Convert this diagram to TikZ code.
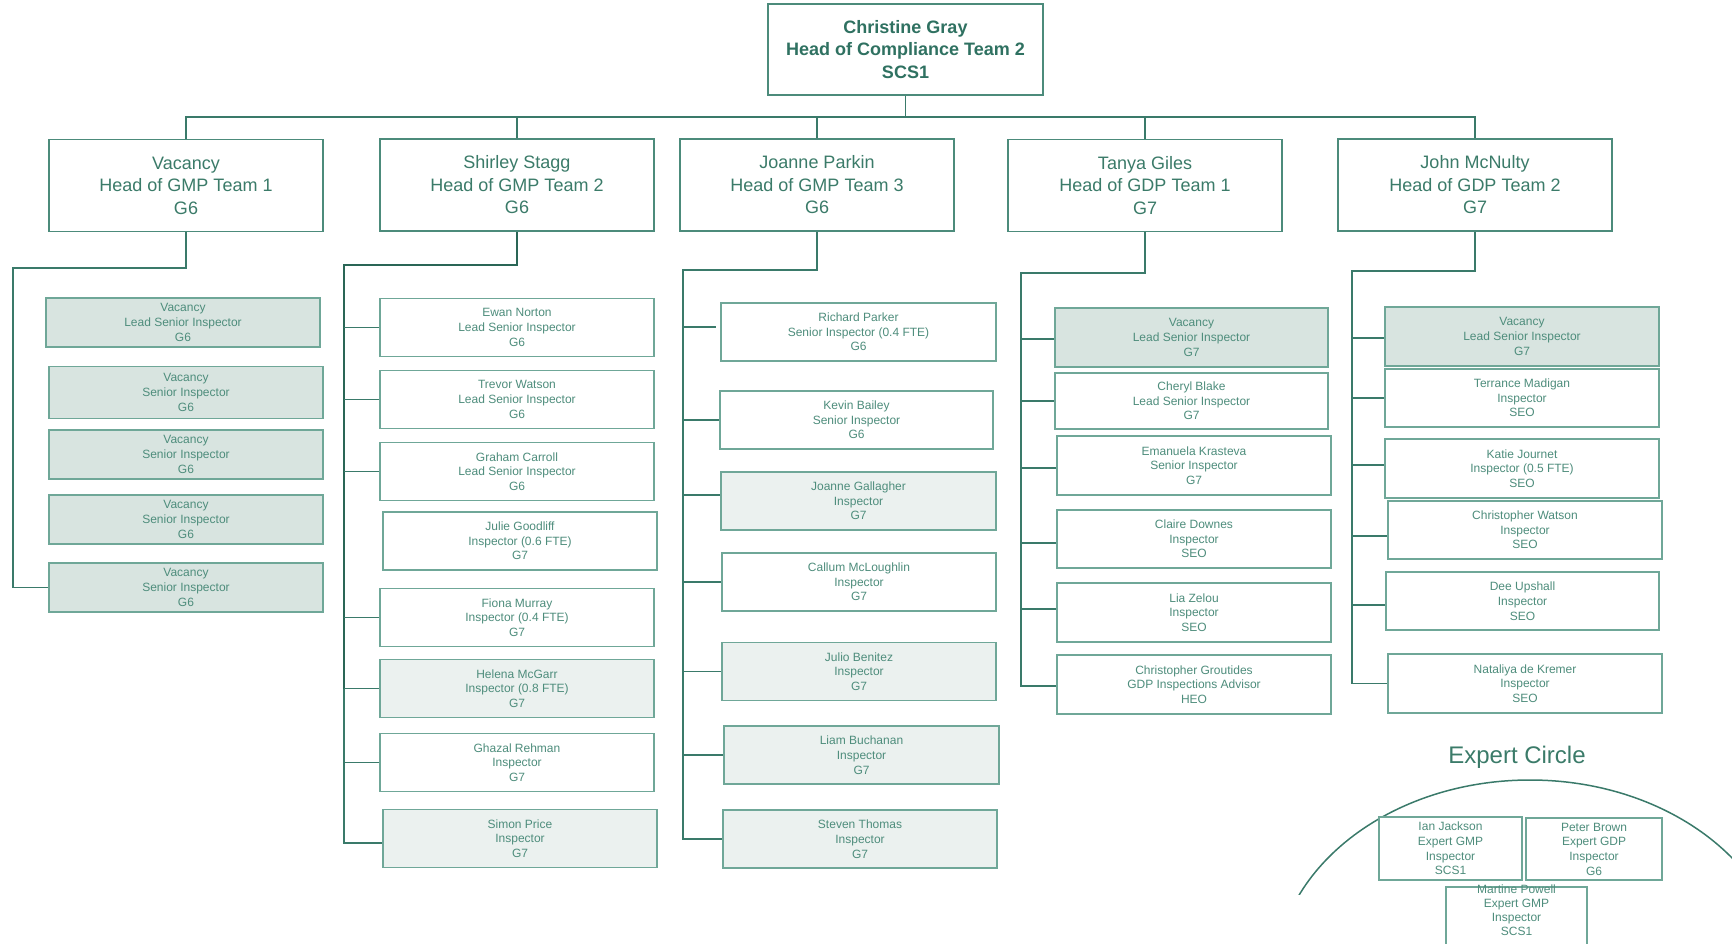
\documentclass[tikz,border=0pt]{standalone}
\usepackage{fontspec}
\setmainfont{Liberation Sans}
\definecolor{toptext}{HTML}{2F7161}
\definecolor{headtext}{HTML}{3B7B69}
\definecolor{stafftext}{HTML}{4E8D7C}
\definecolor{headline}{HTML}{4C8B7B}
\definecolor{boxline}{HTML}{6FA798}
\definecolor{connline}{HTML}{3A7A6A}
\definecolor{darkline}{HTML}{2A6656}
\definecolor{vacfill}{HTML}{D8E4E0}
\definecolor{lightfill}{HTML}{EBF1EF}
\begin{document}
\begin{tikzpicture}[x=1pt,y=-1pt,
  every node/.style={inner sep=0pt, align=center},
  topbox/.style={draw=headline, line width=1.6pt, fill=white,
    minimum width=275pt, minimum height=91pt, text=toptext,
    font=\fontsize{18}{22.5}\selectfont\bfseries},
  headbox/.style={draw=headline, line width=1.6pt, fill=white,
    minimum width=274pt, minimum height=92pt, text=headtext,
    font=\fontsize{18}{22.5}\selectfont},
  staff/.style={draw=boxline, line width=1.6pt, fill=white,
    minimum width=274pt, minimum height=58pt, text=stafftext,
    font=\fontsize{12}{14.7}\selectfont},
  vacant/.style={staff, fill=vacfill},
  shaded/.style={staff, fill=lightfill},
  expert/.style={staff, minimum height=63pt},
  stafftxt/.style={text=stafftext, font=\fontsize{12}{14.2}\selectfont},
  conn/.style={draw=connline, line width=1.8pt},
  mainconn/.style={draw=darkline, line width=2.8pt},
  title/.style={text=headtext, font=\fontsize{24}{28}\selectfont}]

\path[use as bounding box, clip] (0,0) rectangle (1732,943);

% ---------- top level ----------
\node[topbox] (top) at (905.5,49.5) {Christine Gray\\Head of Compliance Team 2\\SCS1};

\node[headbox] (h1) at (186,185.5) {Vacancy\\Head of GMP Team 1\\G6};
\node[headbox] (h2) at (517,185) {Shirley Stagg\\Head of GMP Team 2\\G6};
\node[headbox] (h3) at (817,185) {Joanne Parkin\\Head of GMP Team 3\\G6};
\node[headbox] (h4) at (1145,185.5) {Tanya Giles\\Head of GDP Team 1\\G7};
\node[headbox] (h5) at (1475,185) {John McNulty\\Head of GDP Team 2\\G7};

\coordinate (bar) at (0,117);
\draw[conn] (top.south) -- (top.south |- bar);
\draw[conn] (h1.north) |- (h5.north |- bar) -- (h5.north);
\foreach \h in {h2,h3,h4} \draw[conn] (\h.north) -- (\h.north |- bar);

% ---------- GMP Team 1 ----------
\node[vacant, minimum height=49pt] (a1) at (183,322.5) {Vacancy\\Lead Senior Inspector\\G6};
\node[vacant, minimum height=52pt] (a2) at (186,392.5) {Vacancy\\Senior Inspector\\G6};
\node[vacant, minimum height=49pt] (a3) at (186,454.5) {Vacancy\\Senior Inspector\\G6};
\node[vacant, minimum height=49pt] (a4) at (186,519.5) {Vacancy\\Senior Inspector\\G6};
\node[vacant, minimum height=49pt] (a5) at (186,587.5) {Vacancy\\Senior Inspector\\G6};

\coordinate (t1) at (13,268);
\draw[conn] (h1.south) |- (t1) |- (a5.west);

% ---------- GMP Team 2 ----------
\node[staff] (b1) at (517,327.5) {Ewan Norton\\Lead Senior Inspector\\G6};
\node[staff] (b2) at (517,399.5) {Trevor Watson\\Lead Senior Inspector\\G6};
\node[staff] (b3) at (517,471.5) {Graham Carroll\\Lead Senior Inspector\\G6};
\node[staff] (b4) at (520,541) {Julie Goodliff\\Inspector (0.6 FTE)\\G7};
\node[staff] (b5) at (517,617.5) {Fiona Murray\\Inspector (0.4 FTE)\\G7};
\node[shaded] (b6) at (517,688.5) {Helena McGarr\\Inspector (0.8 FTE)\\G7};
\node[staff] (b7) at (517,762.5) {Ghazal Rehman\\Inspector\\G7};
\node[shaded] (b8) at (520,838.5) {Simon Price\\Inspector\\G7};

\coordinate (t2) at (344,265);
\coordinate (b8t) at ([yshift=-4.5pt]b8.west);
\draw[mainconn] (h2.south) |- (t2) -- (t2 |- b6.west);
\draw[conn] (t2 |- b6.west) |- (b8t);
\foreach \b in {b1,b2,b3,b5,b6,b7} \draw[conn] (t2 |- \b.west) -- (\b.west);

% ---------- GMP Team 3 ----------
\node[staff, minimum width=275pt] (c1) at (858.5,332) {Richard Parker\\Senior Inspector (0.4 FTE)\\G6};
\node[staff, minimum width=273pt] (c2) at (856.5,420) {Kevin Bailey\\Senior Inspector\\G6};
\node[shaded, minimum width=275pt] (c3) at (858.5,501) {Joanne Gallagher\\Inspector\\G7};
\node[staff] (c4) at (859,582) {Callum McLoughlin\\Inspector\\G7};
\node[shaded] (c5) at (859,671.5) {Julio Benitez\\Inspector\\G7};
\node[shaded, minimum width=275pt] (c6) at (861.5,755) {Liam Buchanan\\Inspector\\G7};
\node[shaded] (c7) at (860,839) {Steven Thomas\\Inspector\\G7};

\coordinate (t3) at (683,270);
\draw[conn] (h3.south) |- (t3) |- (c7.west);
\foreach \n/\s/\g in {c1/5/4, c2/0/0, c3/6/0, c4/0/0, c5/0/0, c6/0/0} {
  \coordinate (tip) at ([yshift=\s pt, xshift=-\g pt]\n.west);
  \draw[conn] (t3 |- tip) -- (tip);
}

% ---------- GDP Team 1 ----------
\node[vacant, minimum width=273pt, minimum height=59pt] (d1) at (1191.5,337.5) {Vacancy\\Lead Senior Inspector\\G7};
\node[staff, minimum width=273pt, minimum height=56pt] (d2) at (1191.5,401) {Cheryl Blake\\Lead Senior Inspector\\G7};
\node[staff, minimum height=59pt] (d3) at (1194,465.5) {Emanuela Krasteva\\Senior Inspector\\G7};
\node[staff] (d4) at (1194,539) {Claire Downes\\Inspector\\SEO};
\node[staff, minimum height=59pt] (d5) at (1194,612.5) {Lia Zelou\\Inspector\\SEO};
\node[staff, minimum height=59pt] (d6) at (1194,684.5) {Christopher Groutides\\GDP Inspections Advisor\\HEO};

\coordinate (t4) at (1021,273);
\coordinate (d6t) at ([yshift=-1.5pt]d6.west);
\draw[conn] (h4.south) |- (t4) |- (d6t);
\foreach \n/\s in {d1/-1.5, d2/0, d3/-2.5, d4/-4, d5/3.5} {
  \coordinate (tip) at ([yshift=\s pt]\n.west);
  \draw[conn] (t4 |- tip) -- (tip);
}

% ---------- GDP Team 2 ----------
\node[vacant, minimum height=59pt] (e1) at (1522,336.5) {Vacancy\\Lead Senior Inspector\\G7};
\node[staff] (e2) at (1522,398) {Terrance Madigan\\Inspector\\SEO};
\node[staff, minimum height=59pt] (e3) at (1522,468.5) {Katie Journet\\Inspector (0.5 FTE)\\SEO};
\node[staff] (e4) at (1525,530) {Christopher Watson\\Inspector\\SEO};
\node[staff, minimum width=273pt] (e5) at (1522.5,601) {Dee Upshall\\Inspector\\SEO};
\node[staff, minimum height=59pt] (e6) at (1525,683.5) {Nataliya de Kremer\\Inspector\\SEO};

\coordinate (t5) at (1352,271);
\draw[conn] (h5.south) |- (t5) |- (e6.west);
\foreach \n/\s in {e1/-1.5, e2/0, e3/3.5, e4/-6, e5/-4} {
  \coordinate (tip) at ([yshift=\s pt]\n.west);
  \draw[conn] (t5 |- tip) -- (tip);
}

% ---------- Expert circle ----------
\node[title] (ectitle) at (1517,757) {Expert Circle};
\begin{scope}
  \clip (1290,700) rectangle (1740,894);
  \draw[draw=connline, line width=1.5pt] (1530,980) ellipse [x radius=255, y radius=200];
\end{scope}
\node[expert, minimum width=143pt] (ian) at (1450.5,848.5) {Ian Jackson\\Expert GMP\\Inspector\\SCS1};
\node[expert, minimum width=136pt, minimum height=62pt] (peter) at (1594,849) {Peter Brown\\Expert GDP\\Inspector\\G6};
% this box runs past the lower edge, its text sits against its top
\node[expert, minimum width=141pt] (martine) at (1516.5,918.5) {};
\node[stafftxt, anchor=north] (martinetxt) at ([yshift=2pt]martine.north) {Martine Powell\\Expert GMP\\Inspector\\SCS1};

\end{tikzpicture}
\end{document}
